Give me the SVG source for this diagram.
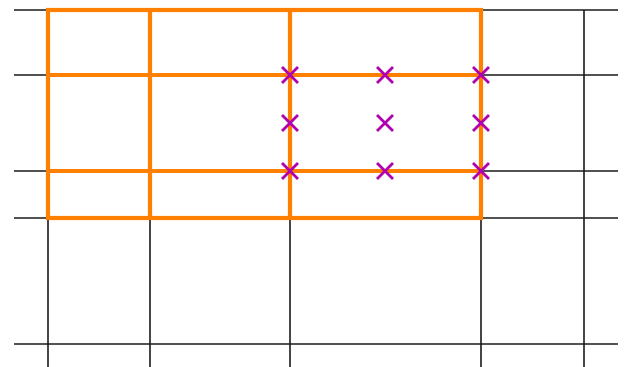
<svg xmlns="http://www.w3.org/2000/svg" width="629" height="367" viewBox="0 0 629 367">
<defs>
<style>
.g{stroke:#1a1a1a;stroke-width:1.6;fill:none}
.o{stroke:#ff8000;stroke-width:4.2;fill:none}
.x{stroke:#b000b0;stroke-width:2.8;fill:none}
</style>
<path id="cross" class="x" d="M-8,-8L8,8M-8,8L8,-8"/>
</defs>
<rect width="629" height="367" fill="#fff"/>
<g id="grid">
<path class="g" d="M14,10H618M14,75H618M14,171H618M14,218H618M14,344H618"/>
<path class="g" d="M48,10V367M150,10V367M290,10V367M481,10V367M584,10V367"/>
</g>
<g id="region">
<rect class="o" x="48" y="10" width="433" height="208"/>
<path class="o" d="M150,10V218M290,10V218M48,75H481M48,171H481"/>
</g>
<g id="points">
<use href="#cross" x="290" y="75"/>
<use href="#cross" x="385" y="75"/>
<use href="#cross" x="481" y="75"/>
<use href="#cross" x="290" y="123"/>
<use href="#cross" x="385" y="123"/>
<use href="#cross" x="481" y="123"/>
<use href="#cross" x="290" y="171"/>
<use href="#cross" x="385" y="171"/>
<use href="#cross" x="481" y="171"/>
</g>
</svg>
